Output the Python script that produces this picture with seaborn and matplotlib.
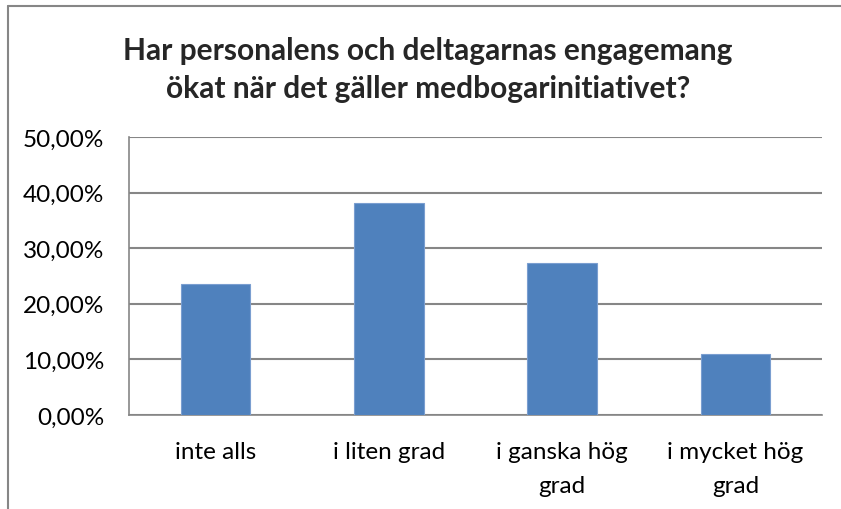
import matplotlib
matplotlib.use("Agg")
import matplotlib.pyplot as plt
from matplotlib.lines import Line2D
from matplotlib.ticker import FuncFormatter, FixedLocator
import seaborn as sns
import pandas as pd

# ---- data ----
categories = ["inte alls", "i liten grad", "i ganska hög\ngrad", "i mycket hög\ngrad"]
shares = [23.6, 38.2, 27.3, 10.9]   # percent
y_ticks = [0, 10, 20, 30, 40, 50]
title = "Har personalens och deltagarnas engagemang\nökat när det gäller medbogarinitiativet?"

df = pd.DataFrame({"svar": categories, "andel": shares})

sns.set_theme(style="white")
plt.rcParams["font.family"] = ["Lato", "DejaVu Sans"]

grey = "#868686"
fig = plt.figure(figsize=(8.41, 5.10), dpi=100)
ax = fig.add_axes([129 / 841, (510 - 416) / 510, (822 - 129) / 841, (416 - 138) / 510])

sns.barplot(data=df, x="svar", y="andel", color="#4F81BD", width=0.4,
            edgecolor="#7A9ED0", linewidth=0.8, saturation=1, ax=ax, zorder=3)

ax.set_ylim(0, 50)
ax.set_xlim(-0.5, len(categories) - 0.5)
ax.yaxis.set_major_locator(FixedLocator(y_ticks))
ax.yaxis.set_major_formatter(FuncFormatter(lambda v, p: f"{v:.2f}%".replace(".", ",")))
ax.grid(axis="y", color=grey, linewidth=1.5, zorder=0)
ax.set_axisbelow(True)

# category boundaries get the ticks, labels sit in the middle
ax.set_xticks(range(len(categories)))
ax.set_xticklabels(categories, fontsize=17.5, color="black", linespacing=1.75, va="top")
ax.set_xticks([i - 0.5 for i in range(len(categories) + 1)], minor=True)
ax.tick_params(axis="x", which="major", length=0, pad=19)
ax.tick_params(axis="x", which="minor", length=7, width=1, color=grey, direction="out")
ax.tick_params(axis="y", length=7, width=1, color=grey, direction="out", labelsize=17.5,
               labelcolor="black", pad=11)
ax.set_xlabel("")
ax.set_ylabel("")

for side in ["top", "right"]:
    ax.spines[side].set_visible(False)
for side in ["left", "bottom"]:
    ax.spines[side].set_color(grey)
    ax.spines[side].set_linewidth(1.2)

fig.text(428 / 841, 1 - 70 / 510, title, ha="center", va="center",
         fontsize=21.5, fontweight="bold", linespacing=1.4)

# outer chart frame (top and left edges visible in the crop)
fig.add_artist(Line2D([8 / 841, 1], [1 - 7 / 510, 1 - 7 / 510], color=grey, linewidth=1.5,
                      transform=fig.transFigure))
fig.add_artist(Line2D([8 / 841, 8 / 841], [0, 1 - 7 / 510], color=grey, linewidth=1.5,
                      transform=fig.transFigure))

fig.savefig("out.png", dpi=100)
